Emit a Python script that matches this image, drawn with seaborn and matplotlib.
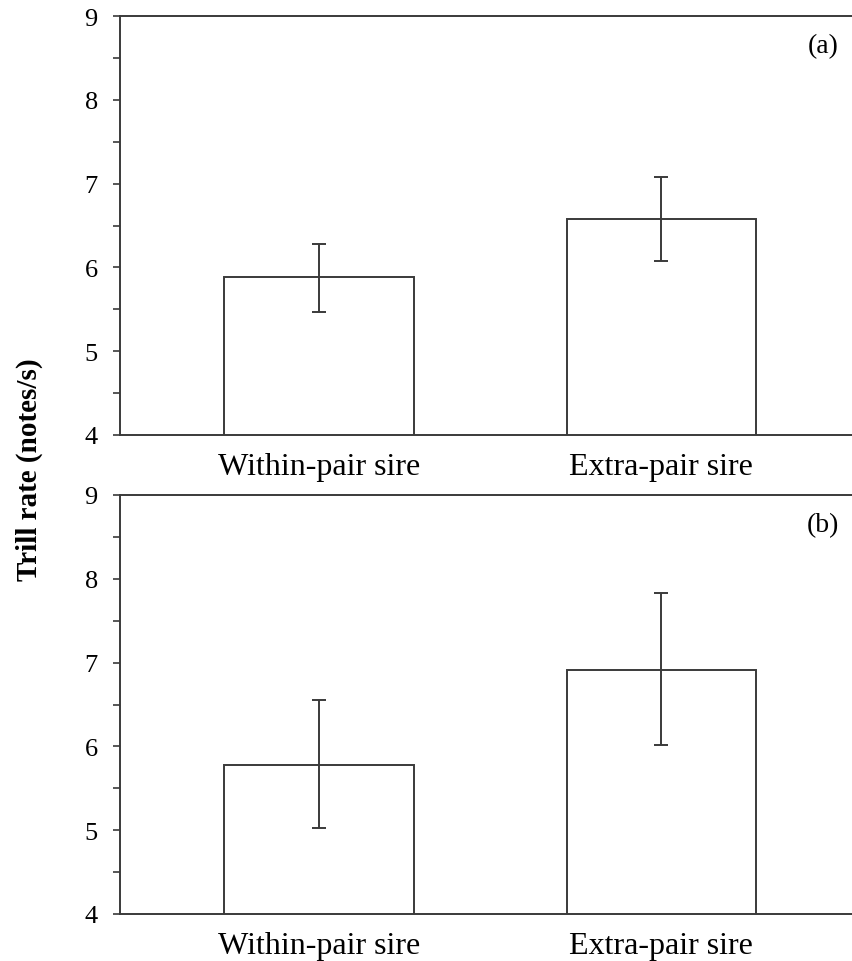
import matplotlib
matplotlib.use("Agg")
import matplotlib.pyplot as plt
import seaborn as sns
import pandas as pd
from matplotlib.ticker import MultipleLocator

categories = ["Within-pair sire", "Extra-pair sire"]
panel_labels = ["(a)", "(b)"]
means_a = [5.89, 6.58]
lower_a = [5.47, 6.08]
upper_a = [6.28, 7.08]
means_b = [5.78, 6.91]
lower_b = [5.03, 6.02]
upper_b = [6.55, 7.83]
yticks = [4, 5, 6, 7, 8, 9]
ylabel = "Trill rate (notes/s)"

sns.set_theme(style="white")
plt.rcParams["font.family"] = ["Liberation Serif", "DejaVu Serif"]
plt.rcParams["text.color"] = "black"
plt.rcParams["xtick.color"] = "black"
plt.rcParams["ytick.color"] = "black"

fig = plt.figure(figsize=(8.52, 9.62), dpi=100)
ax_a = fig.add_axes([120/852, 1-436/962, 1-120/852, 419/962])
ax_b = fig.add_axes([120/852, 1-915/962, 1-120/852, 419/962])

edge = "#3a3a3a"
for ax, means, lo, hi, lab in [(ax_a, means_a, lower_a, upper_a, panel_labels[0]),
                                (ax_b, means_b, lower_b, upper_b, panel_labels[1])]:
    df = pd.DataFrame({"group": categories, "rate": means})
    sns.barplot(data=df, x="group", y="rate", ax=ax, color="white",
                edgecolor=edge, linewidth=1.4, width=0.553, errorbar=None,
                saturation=1)
    yerr = [[m - l for m, l in zip(means, lo)], [h - m for m, h in zip(means, hi)]]
    ax.errorbar(range(len(categories)), means, yerr=yerr, fmt="none",
                ecolor=edge, elinewidth=1.4, capsize=5, capthick=1.4)
    ax.set_ylim(4, 9)
    ax.set_xlim(-0.582, 1.558)
    ax.set_yticks(yticks)
    ax.yaxis.set_minor_locator(MultipleLocator(0.5))
    ax.set_xlabel("")
    ax.set_ylabel("")
    for s in ["left", "top", "bottom"]:
        ax.spines[s].set_visible(True)
        ax.spines[s].set_color(edge)
        ax.spines[s].set_linewidth(1.4)
    ax.spines["right"].set_visible(False)
    ax.tick_params(axis="y", which="both", direction="out", left=True,
                   length=5, width=1.2, color=edge, labelsize=19,
                   labelcolor="black", pad=11)
    ax.tick_params(axis="x", length=0, labelsize=23, labelcolor="black", pad=12)
    ax.text(0.982, 0.93, lab, transform=ax.transAxes, fontsize=20,
            ha="right", va="center")

fig.text(29/852, 1-470/962, ylabel, rotation=90, ha="center", va="center",
         fontsize=21, fontweight="bold")

fig.savefig("out.png", dpi=100)
